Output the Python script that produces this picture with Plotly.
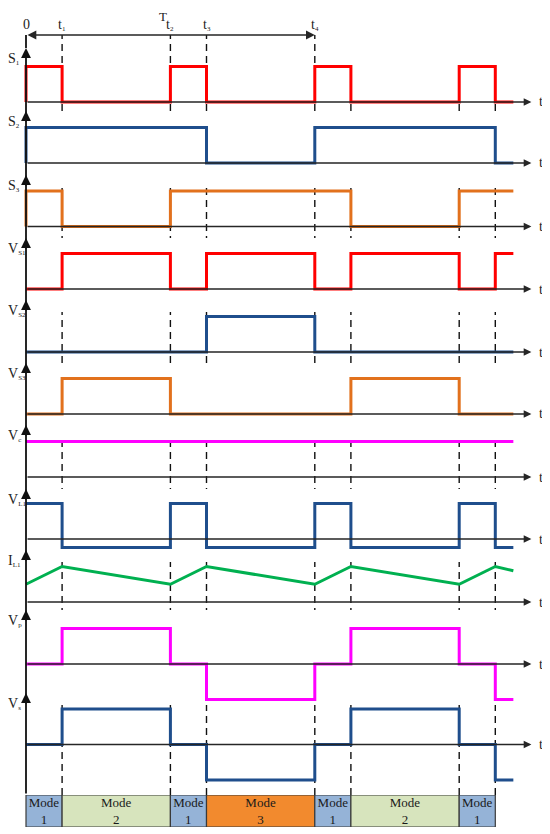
import plotly.graph_objects as go

# switching instants; one period T runs 0..8 (mode 1 = 1 unit, modes 2 and 3 = 3 units)
edges = [0, 1, 4, 5, 8, 9, 12, 13, 13.5]
tick_times = [0, 1, 4, 5, 8]
tick_names = [("0", ""), ("t", "1"), ("t", "2"), ("t", "3"), ("t", "4")]

# level held in each interval between two edges
s1 = [1, 0, 1, 0, 1, 0, 1, 0]
s2 = [1, 1, 1, 0, 1, 1, 1, 0]
s3 = [1, 0, 1, 1, 1, 0, 1, 1]
v_s1 = [0, 1, 0, 1, 0, 1, 0, 1]
v_s2 = [0, 0, 0, 1, 0, 0, 0, 0]
v_s3 = [0, 1, 0, 0, 0, 1, 0, 0]
v_c = [1, 1, 1, 1, 1, 1, 1, 1]
v_l1 = [1, -0.24, 1, -0.24, 1, -0.24, 1, -0.24]
i_l1 = [0.5, 1.0, 0.5, 1.0, 0.5, 1.0, 0.5, 1.0, 0.88]  # value at each edge
v_p = [0, 1, 0, -1, 0, 1, 0, -1]
v_s = [0, 1, 0, -1, 0, 1, 0, -1]

mode_ids = [1, 2, 1, 3, 1, 2, 1]

RED = "#FF0000"
BLUE = "#1F4E8C"
ORANGE = "#E2711D"
MAGENTA = "#FF00FF"
GREEN = "#00B050"
MODE_COLORS = {1: "#95B3D7", 2: "#D7E4BD", 3: "#F28A2E"}
FONT = "Liberation Serif"


def lab(main, sub):
    # big main letter, small subscript (annotation font sets the subscript size)
    if not sub:
        return f"<span style='font-size:14px'>{main}</span>"
    return f"<span style='font-size:14px'>{main}</span><sub>{sub}</sub>"


# label, levels, colour, starts with a rising edge at t=0
signals = [
    (("S", "1"), s1, RED, True),
    (("S", "2"), s2, BLUE, True),
    (("S", "3"), s3, ORANGE, True),
    (("V", "S1"), v_s1, RED, False),
    (("V", "S2"), v_s2, BLUE, False),
    (("V", "S3"), v_s3, ORANGE, False),
    (("V", "c"), v_c, MAGENTA, False),
    (("V", "L1"), v_l1, BLUE, False),
    (("I", "L1"), i_l1, GREEN, False),
    (("V", "p"), v_p, MAGENTA, False),
    (("V", "s"), v_s, BLUE, False),
]

# page geometry (pixels in the 550x834 window; the page body adds an 8px margin)
PAGE_W, PAGE_H, BODY = 550, 834, 8
W, H = PAGE_W - BODY, PAGE_H - BODY
X0_PX, PX_PER_T = 26, 36.1
PX_PER_LEVEL = 35.5
row_tip = [48, 111, 175, 238, 300, 363, 425, 489, 550, 610, 693]
row_base = [102, 163, 226.5, 289, 352, 414, 477, 539, 602, 664, 744.5]
mode_top, mode_bot = 795, 827
header_y, tick_y, title_y = 35, 25, 16.5


def py(px):
    return 1 - (px - BODY) / H


fig = go.Figure()
annotations = []
shapes = []
layout_axes = {}

for i, (name, levels, color, rise) in enumerate(signals):
    k = i + 1
    yid = "y" if k == 1 else f"y{k}"
    top = row_tip[i]
    bot = row_tip[i + 1] + 12 if i + 1 < len(row_tip) else mode_top
    base = row_base[i]
    lo, hi = -(bot - base) / PX_PER_LEVEL, (base - top) / PX_PER_LEVEL
    layout_axes["yaxis" if k == 1 else f"yaxis{k}"] = dict(
        domain=[py(bot), py(top)], range=[lo, hi], visible=False, fixedrange=True)

    # horizontal time axis with arrow and "t"
    annotations.append(dict(x=14, y=0, ax=0, ay=0, xref="x", yref=yid, axref="x", ayref=yid,
                            showarrow=True, arrowhead=2, arrowsize=1.1, arrowwidth=1.4,
                            arrowcolor="#262626", text=""))
    annotations.append(dict(x=14.15, y=0, xref="x", yref=yid, text="t", showarrow=False,
                            xanchor="left", yanchor="middle",
                            font=dict(family=FONT, size=14, color="#222")))
    # vertical axis piece with arrow at top of row
    annotations.append(dict(x=0, y=hi, ax=0, ay=lo, xref="x", yref=yid, axref="x", ayref=yid,
                            showarrow=True, arrowhead=2, arrowsize=1.1, arrowwidth=1.8,
                            arrowcolor="#111", text=""))
    # signal name, left of the vertical axis
    annotations.append(dict(x=0, y=hi, xref="paper", yref=yid, text=lab(*name), showarrow=False,
                            xanchor="left", yanchor="middle", yshift=-11, xshift=-2,
                            font=dict(family=FONT, size=10, color="#222")))

    if i == 8:  # inductor current is piecewise linear
        xs, ys, shape = edges, levels, "linear"
    else:
        xs, ys, shape = edges, levels + [levels[-1]], "hv"
        if rise:
            xs, ys = [0] + xs, [0] + ys
    fig.add_trace(go.Scatter(x=xs, y=ys, mode="lines", yaxis=yid,
                             line=dict(color=color, width=3, shape=shape),
                             hoverinfo="skip", showlegend=False))

# mode boxes
km = len(signals) + 1
layout_axes[f"yaxis{km}"] = dict(domain=[py(mode_bot), py(mode_top)], range=[-0.5, 0.5],
                                 visible=False, fixedrange=True)
durations = [edges[j + 1] - edges[j] for j in range(len(mode_ids))]
fig.add_trace(go.Bar(
    orientation="h", y=[0] * len(mode_ids), x=durations, base=edges[:len(mode_ids)],
    width=[1] * len(mode_ids), yaxis=f"y{km}",
    marker=dict(color=[MODE_COLORS[m] for m in mode_ids], line=dict(color="#3a3a3a", width=1.2)),
    text=[f"Mode<br>{m}" for m in mode_ids], textposition="inside", insidetextanchor="middle",
    constraintext="none", textangle=0,
    textfont=dict(family=FONT, size=13, color="#1a1a1a"),
    hoverinfo="skip", showlegend=False))

# header: period arrow, instants and dashed guides
annotations.append(dict(x=8, y=py(header_y), ax=0, ay=0, xref="x", yref="paper",
                        axref="x", ayref="pixel", showarrow=True, arrowhead=2, startarrowhead=2,
                        arrowside="end+start", arrowsize=1.1, startarrowsize=1.1, arrowwidth=1.6,
                        arrowcolor="#262626", text=""))
annotations.append(dict(x=3.8, y=py(title_y), xref="x", yref="paper", text="T", showarrow=False,
                        yanchor="middle", borderpad=0,
                        font=dict(family=FONT, size=13, color="#222")))
for t, tn in zip(tick_times, tick_names):
    annotations.append(dict(x=t, y=py(tick_y), xref="x", yref="paper", text=lab(*tn),
                            showarrow=False, xanchor="center", yanchor="middle",
                            font=dict(family=FONT, size=10, color="#222")))

shapes.append(dict(type="line", xref="x", yref="paper", x0=0, x1=0, y0=py(row_tip[0]),
                   y1=py(header_y), line=dict(color="#111", width=1.8)))
for t in edges[1:-1]:
    start = header_y if t <= 8 else row_base[0] + 2
    shapes.append(dict(type="line", xref="x", yref="paper", x0=t, x1=t, y0=py(mode_top),
                       y1=py(start), line=dict(color="#111", width=1.4, dash="7px,5px"), layer="below"))

fig.update_layout(
    width=W, height=H, margin=dict(l=0, r=0, t=0, b=0),
    paper_bgcolor="white", plot_bgcolor="white",
    xaxis=dict(range=[-(X0_PX - BODY) / PX_PER_T, (PAGE_W - X0_PX) / PX_PER_T],
               visible=False, fixedrange=True),
    annotations=annotations, shapes=shapes, showlegend=False,
    **layout_axes,
)
fig.write_html("out.html")
